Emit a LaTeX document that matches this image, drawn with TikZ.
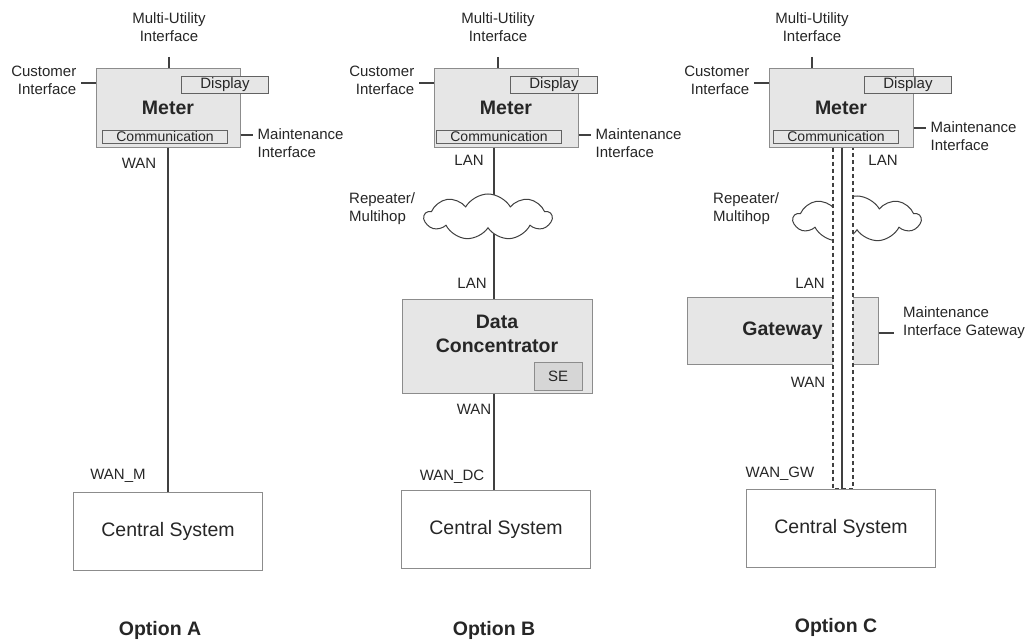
\documentclass[tikz,border=0pt]{standalone}
\usepackage{fontspec}
\setmainfont{Liberation Sans}
\usetikzlibrary{shapes.symbols}

\definecolor{boxgray}{HTML}{E6E6E6}
\definecolor{segray}{HTML}{D6D6D6}
\definecolor{edgegray}{HTML}{8C8C8C}
\definecolor{linegray}{HTML}{404040}
\newcommand{\lblfont}{\fontsize{15}{18}\selectfont}
\newcommand{\smallfont}{\fontsize{14}{16}\selectfont}
\newcommand{\bigfont}{\fontsize{19.5}{24}\selectfont}

\begin{document}
\begin{tikzpicture}[x=1pt,y=-1pt,
  every node/.style={text=black!85, inner sep=0pt},
  lbl/.style={font=\lblfont},
  bigbold/.style={font=\bigfont\bfseries},
  wire/.style={draw=linegray, line width=1.1pt},
  meterbox/.style={draw=edgegray, fill=boxgray, line width=1pt, minimum width=144pt, minimum height=78pt, font=\bigfont\bfseries},
  dispbox/.style={draw=edgegray!70!black, fill=boxgray, line width=0.9pt, minimum width=87pt, minimum height=17pt, font=\lblfont},
  commbox/.style={draw=edgegray!70!black, fill=boxgray, line width=0.9pt, minimum width=125pt, minimum height=13pt, font=\smallfont},
  dcbox/.style={draw=edgegray, fill=boxgray, line width=1pt, minimum width=190pt, minimum height=94pt},
  gwbox/.style={draw=edgegray, fill=boxgray, line width=1pt, minimum width=191pt, minimum height=67pt, font=\bigfont\bfseries},
  sebox/.style={draw=edgegray, fill=segray, line width=1pt, minimum width=48pt, minimum height=28pt, font=\lblfont},
  centralbox/.style={draw=edgegray, fill=white, line width=1pt, minimum width=189pt, minimum height=78pt, font=\bigfont},
  cloudy/.style={cloud, cloud puffs=9, cloud puff arc=120, aspect=2.8, draw=linegray, fill=white, line width=1pt, minimum width=127pt, minimum height=46pt}]
\useasboundingbox (0,0) rectangle (1031,642);

% meters with their interfaces
\foreach \o/\x/\d/\c/\u/\m in {A/168/57/-3/1/135, B/506/48/-7/-8/135, C/841/67/-5/-29/128} {
  \node[meterbox] (meter\o) at (\x,108) {Meter};
  \node[dispbox] (disp\o) at (\x+\d,85) {Display};
  \node[commbox] (comm\o) at (\x+\c,136.5) {Communication};
  \coordinate (mu\o) at (\x+\u,57);
  \draw[wire] (mu\o) -- (mu\o |- meter\o.north);
  \node[lbl, align=center] (mutxt\o) at (\x+\u,27) {Multi-Utility\\Interface};
  \draw[wire] (meter\o.west |- 0,83) -- ++(-15,0);
  \node[lbl, align=right, anchor=east] (cust\o) at ([xshift=-19pt]meter\o.west |- 0,80) {Customer\\Interface};
  \draw[wire] (meter\o.east |- 0,\m) -- ++(12,0);
  \node[lbl, align=left, anchor=west] (maint\o) at ([xshift=17pt]meter\o.east |- 0,\m+8) {Maintenance\\Interface};
}

% Option A
\node[centralbox] (centralA) at (168,531) {Central System};
\draw[wire] (meterA.south) -- (centralA.north);
\node[lbl] at (139,163) {WAN};
\node[lbl] at (118,476) {WAN\_M};
\node[bigbold] (optA) at (160,630) {Option A};

% Option B
\coordinate (busB) at (494,0);
\node[dcbox] (dcB) at (497,346) {};
\node[bigbold, align=center] at (497,334) {Data\\Concentrator};
\node[sebox] (seB) at (558,376) {SE};
\node[centralbox] (centralB) at (496,529) {Central System};
\draw[wire] (busB |- meterB.south) -- (busB |- dcB.north);
\draw[wire] (busB |- dcB.south) -- (busB |- centralB.north);
\node[cloudy] (cloudB) at (488,217) {};
\node[lbl, align=left, anchor=west] at (349,209) {Repeater/\\Multihop};
\node[lbl] at (469,160) {LAN};
\node[lbl] at (472,283) {LAN};
\node[lbl] at (474,409) {WAN};
\node[lbl] at (452,477) {WAN\_DC};
\node[bigbold] (optB) at (494,630) {Option B};

% Option C
\coordinate (chL) at (833,0);
\coordinate (chR) at (853,0);
\coordinate (busC) at (842,0);
\node[cloudy] (cloudC) at (857,219) {};
\node[lbl, align=left, anchor=west] at (713,209) {Repeater/\\Multihop};
\node[gwbox] (gwC) at (782.5,330.5) {Gateway};
\node[centralbox] (centralC) at (841,528) {Central System};
\fill[white] (chL |- meterC.south) rectangle (chR |- centralC.north);
\draw[wire, dash pattern=on 4pt off 3pt] (chL |- meterC.south) -- (chL |- centralC.north) -- (chR |- centralC.north) -- (chR |- meterC.south);
\draw[wire] (busC |- meterC.south) -- (busC |- centralC.north);
\draw[wire] (gwC.east |- 0,333) -- ++(15,0);
\node[lbl, align=left, anchor=west] at (903,323) {Maintenance\\Interface Gateway};
\node[lbl] at (883,160) {LAN};
\node[lbl] at (810,283) {LAN};
\node[lbl] at (808,382) {WAN};
\node[lbl] at (780,474) {WAN\_GW};
\node[bigbold] (optC) at (836,627) {Option C};
\end{tikzpicture}
\end{document}
